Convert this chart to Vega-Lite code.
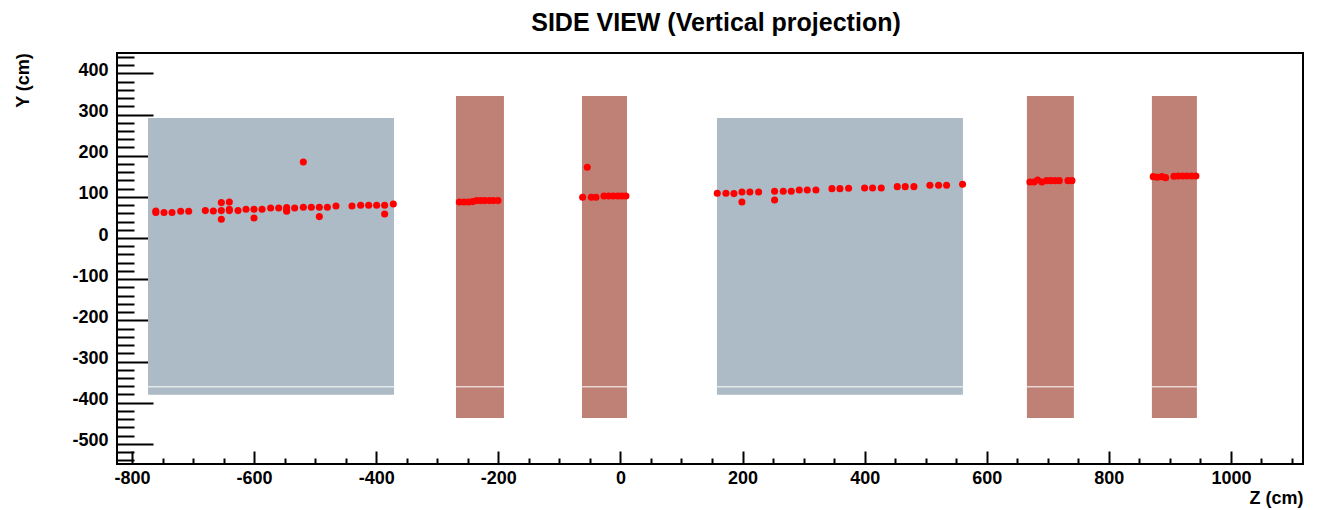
{"$schema":"https://vega.github.io/schema/vega-lite/v6.json","width":1186,"height":411,"autosize":{"type":"none"},"padding":{"left":117,"top":53,"right":16,"bottom":46},"background":"white","title":{"text":"SIDE VIEW (Vertical projection)","font":"Liberation Sans","fontSize":25,"fontWeight":"bold","color":"black","anchor":"middle","dx":6,"offset":16},"view":{"stroke":"black","strokeWidth":2,"fill":null},"datasets":{"blocks":[{"z0":-773.8,"z1":-370.9,"y0":-380.9,"y1":291.6,"gap":-361.5,"kind":"barrel"},{"z0":-269.4,"z1":-190.8,"y0":-437.2,"y1":345,"gap":-361.5,"kind":"wall"},{"z0":-63,"z1":10.7,"y0":-437.2,"y1":345,"gap":-361.5,"kind":"wall"},{"z0":158.1,"z1":561,"y0":-380.9,"y1":291.6,"gap":-361.5,"kind":"barrel"},{"z0":665.8,"z1":742.7,"y0":-437.2,"y1":345,"gap":-361.5,"kind":"wall"},{"z0":870.5,"z1":944.2,"y0":-437.2,"y1":345,"gap":-361.5,"kind":"wall"}],"hits":[{"z":-761,"y":65.8},{"z":-761,"y":61.8},{"z":-747.6,"y":61.8},{"z":-734.5,"y":61.8},{"z":-720.3,"y":65},{"z":-707.2,"y":65},{"z":-679.9,"y":66.6},{"z":-666.8,"y":65.8},{"z":-653.7,"y":66.6},{"z":-653.7,"y":86},{"z":-653.7,"y":45.6},{"z":-640.6,"y":87.7},{"z":-640.6,"y":69.8},{"z":-640.6,"y":66.6},{"z":-626.4,"y":66.6},{"z":-613.3,"y":69.8},{"z":-600.2,"y":69.8},{"z":-600.2,"y":48.8},{"z":-587,"y":69.8},{"z":-572.9,"y":73},{"z":-559.8,"y":73},{"z":-546.7,"y":73.9},{"z":-546.7,"y":69},{"z":-546.7,"y":65},{"z":-533.6,"y":73},{"z":-519.4,"y":74.7},{"z":-519.4,"y":184.8},{"z":-506.3,"y":74.7},{"z":-493.2,"y":74.7},{"z":-493.2,"y":52},{"z":-480,"y":74.7},{"z":-465.9,"y":77.9},{"z":-439.7,"y":77.9},{"z":-425.5,"y":79.6},{"z":-412.4,"y":79.6},{"z":-399.3,"y":79.6},{"z":-386.2,"y":79.6},{"z":-386.2,"y":58.5},{"z":-372,"y":82.8},{"z":-263.9,"y":87.6},{"z":-256.3,"y":87.6},{"z":-248.6,"y":87.6},{"z":-242,"y":88.5},{"z":-235.5,"y":90.9},{"z":-229,"y":90.9},{"z":-222.4,"y":90.9},{"z":-214.8,"y":90.9},{"z":-208.2,"y":90.9},{"z":-200.6,"y":90.9},{"z":-54.3,"y":171.8},{"z":-61.9,"y":99},{"z":-47.7,"y":99},{"z":-40.1,"y":99},{"z":-27,"y":102.2},{"z":-19.3,"y":102.2},{"z":-11.7,"y":102.2},{"z":-4,"y":102.2},{"z":2.5,"y":102.2},{"z":9,"y":102.2},{"z":158.6,"y":108.7},{"z":172.8,"y":108.7},{"z":185.9,"y":107.9},{"z":199,"y":111.9},{"z":199,"y":87.6},{"z":212,"y":111.9},{"z":226.3,"y":111.9},{"z":252.5,"y":113.5},{"z":252.5,"y":92.5},{"z":266.7,"y":113.5},{"z":279.8,"y":113.5},{"z":292.9,"y":116.7},{"z":306,"y":116.7},{"z":320.2,"y":116.7},{"z":346.4,"y":120},{"z":359.5,"y":120},{"z":373.7,"y":120.8},{"z":399.9,"y":121.6},{"z":413,"y":121.6},{"z":427.2,"y":121.6},{"z":453.4,"y":124.8},{"z":466.5,"y":124.8},{"z":480.7,"y":124.8},{"z":506.9,"y":128},{"z":521.1,"y":128},{"z":534.2,"y":128},{"z":560.4,"y":130.5},{"z":670.7,"y":136.2},{"z":677.3,"y":136.2},{"z":683.3,"y":141},{"z":690.4,"y":136},{"z":698,"y":139.4},{"z":704.6,"y":139.4},{"z":711.7,"y":139.4},{"z":718.8,"y":139.4},{"z":733,"y":139.4},{"z":739.5,"y":139.4},{"z":872.7,"y":149.1},{"z":879.3,"y":147.5},{"z":886.9,"y":149.1},{"z":892.9,"y":146.7},{"z":906.6,"y":150},{"z":913.6,"y":150.8},{"z":920.8,"y":150.8},{"z":927.9,"y":150.8},{"z":935.5,"y":150.8},{"z":942.6,"y":150.8}]},"config":{"axis":{"grid":false,"domain":false,"tickColor":"black","labelColor":"black","titleColor":"black","labelFont":"Liberation Sans","titleFont":"Liberation Sans","labelFontWeight":"bold","titleFontWeight":"bold","labelFontSize":18,"titleFontSize":18}},"resolve":{"axis":{"x":"independent","y":"independent"}},"layer":[{"data":{"name":"blocks"},"mark":{"type":"rect"},"encoding":{"x":{"field":"z0","type":"quantitative","scale":{"domain":[-824.6,1118],"nice":false,"zero":false},"axis":{"orient":"bottom","values":[-800,-600,-400,-200,0,200,400,600,800,1000],"labelExpr":"''+datum.value","tickSize":-13,"tickWidth":2,"labelPadding":18,"labelFlush":false,"labelOverlap":false,"title":"Z (cm)","titleX":1186,"titleY":34,"titleAlign":"right","titleBaseline":"middle"}},"x2":{"field":"z1"},"y":{"field":"y0","type":"quantitative","scale":{"domain":[-549,449.5],"nice":false,"zero":false},"axis":{"orient":"left","values":[-500,-400,-300,-200,-100,0,100,200,300,400],"labelExpr":"''+datum.value","tickSize":-36,"tickWidth":2,"labelPadding":45,"labelOffset":-3,"labelFlush":false,"labelOverlap":false,"title":"Y (cm)","titleX":-94,"titleY":27,"titleAngle":270,"titleAlign":"center","titleBaseline":"middle"}},"y2":{"field":"y1"},"color":{"field":"kind","type":"nominal","scale":{"domain":["barrel","wall"],"range":["#acbbc5","#bf8075"]},"legend":null}}},{"data":{"name":"blocks"},"mark":{"type":"rule","color":"white","strokeWidth":1},"encoding":{"x":{"field":"z0","type":"quantitative","axis":{"orient":"bottom","values":[-750,-700,-650,-550,-500,-450,-350,-300,-250,-150,-100,-50,50,100,150,250,300,350,450,500,550,650,700,750,850,900,950,1050,1100],"tickSize":-6,"tickWidth":2,"labels":false,"title":null}},"x2":{"field":"z1"},"y":{"field":"gap","type":"quantitative","axis":{"orient":"left","values":[-540,-520,-480,-460,-440,-420,-380,-360,-340,-320,-280,-260,-240,-220,-180,-160,-140,-120,-80,-60,-40,-20,20,40,60,80,120,140,160,180,220,240,260,280,320,340,360,380,420,440],"tickSize":-17,"tickWidth":2,"labels":false,"title":null}}}},{"data":{"name":"hits"},"mark":{"type":"circle","color":"#ff0000","opacity":1,"size":50},"encoding":{"x":{"field":"z","type":"quantitative","axis":null},"y":{"field":"y","type":"quantitative","axis":null}}}]}
